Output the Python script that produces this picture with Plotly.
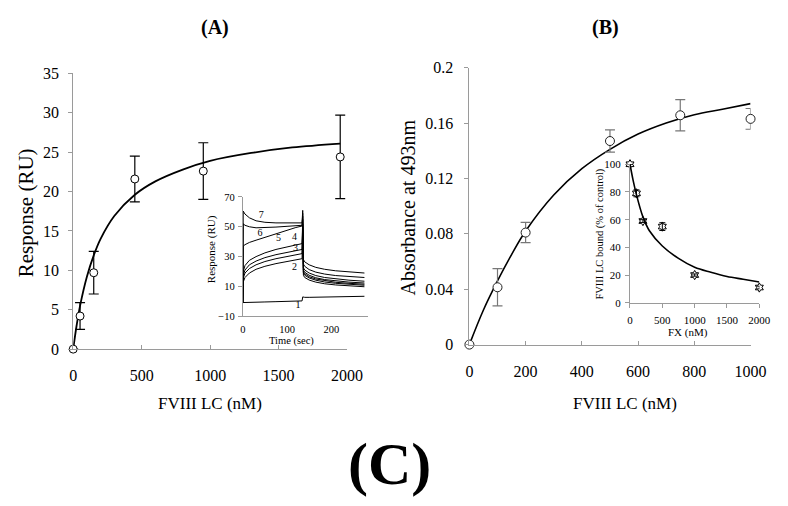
import plotly.graph_objects as go

W, H = 788, 506
FONT = "Liberation Serif"

# ---------------- Panel A main data ----------------
a_x = [0, 50, 150, 450, 950, 1950]
a_y = [0, 4.2, 9.7, 21.6, 22.6, 24.4]
a_err = [0, 1.7, 2.7, 2.9, 3.6, 5.3]
a_fit_x = [0, 25, 50, 100, 150, 200, 300, 450, 600, 800, 1000, 1300, 1600, 1950]
a_fit_y = [0, 3.0, 5.5, 9.2, 11.9, 14.0, 16.9, 19.6, 21.3, 22.8, 23.9, 24.9, 25.6, 26.1]
a_xticks = [0, 500, 1000, 1500, 2000]
a_yticks = [0, 5, 10, 15, 20, 25, 30, 35]

# ---------------- Panel A inset (sensorgram) ----------------
t_assoc = [0, 1, 5, 15, 30, 50, 75, 100, 120, 134]
t_spike = [135.5]
t_diss = [137, 140, 150, 165, 185, 210, 240, 275]
c7 = [-0.8, 60.5, 58.5, 56, 54, 53, 52.6, 52.4, 52.4, 52.6] + [61] + [28, 26.5, 24.5, 22.8, 21.5, 20.5, 19.7, 19.0]
c6 = [-0.8, 52, 51, 50, 49.3, 49.3, 49.8, 50.3, 50.7, 51] + [59] + [25, 23.5, 21.3, 19.6, 18.3, 17.3, 16.5, 16.0]
c5 = [-0.8, 37, 38, 39.5, 41, 43, 45.5, 48, 49.5, 50.5] + [57] + [22.5, 21, 19, 17.3, 16, 15, 14.2, 13.5]
c4 = [-0.8, 20, 24, 27.5, 30, 32.5, 34.8, 36.7, 37.8, 38.7] + [55] + [21, 19.5, 17.5, 15.8, 14.6, 13.6, 12.9, 12.3]
c3a = [-0.8, 17.5, 21, 24.5, 27, 29.3, 31.3, 33, 34, 34.8] + [52] + [20, 18.5, 16.5, 15, 13.8, 12.8, 12.1, 11.5]
c3b = [-0.8, 15.5, 19, 22, 24.5, 26.7, 28.6, 30.2, 31.2, 32] + [50] + [19, 17.5, 15.7, 14.2, 13, 12.1, 11.4, 10.8]
c2 = [-0.8, 13, 16, 19, 21.5, 23.5, 25.3, 26.8, 27.8, 28.6] + [48] + [17.5, 16, 14.3, 12.9, 11.8, 11, 10.4, 9.8]
c1 = [-0.8, -0.8, -0.8, -0.7, -0.6, -0.4, -0.2, 0, 0.2, 0.3] + [3] + [2.8, 2.7, 2.7, 2.8, 2.9, 3.0, 3.2, 3.4]
sens_curves = [c7, c6, c5, c4, c3a, c3b, c2, c1]
sens_lab = ["7", "6", "5", "4", "3", "2", "1"]
sens_lab_x = [42, 39, 81, 117, 119, 117, 125]
sens_lab_y = [57.6, 45.6, 42.3, 42.5, 35.3, 22.7, -3]
ia_xticks = [0, 100, 200]
ia_yticks = [-10, 10, 30, 50, 70]

# ---------------- Panel B main data ----------------
b_x = [0, 100, 200, 500, 750, 1000]
b_y = [0, 0.0414, 0.0809, 0.147, 0.1656, 0.163]
b_err = [0, 0.0135, 0.0073, 0.008, 0.0113, 0.0075]
b_fit_x = [0, 50, 100, 150, 200, 300, 400, 500, 600, 700, 800, 900, 1000]
b_fit_y = [0, 0.025, 0.046, 0.065, 0.082, 0.108, 0.127, 0.141, 0.152, 0.160, 0.166, 0.170, 0.174]
b_xticks = [0, 200, 400, 600, 800, 1000]
b_yticks = [0, 0.04, 0.08, 0.12, 0.16, 0.2]
b_yticktext = ["0", "0.04", "0.08", "0.12", "0.16", "0.2"]

# ---------------- Panel B inset ----------------
ib_x = [0, 100, 200, 500, 1000, 2000]
ib_y = [100, 79, 59, 55, 20, 11]
ib_err = [0, 2.5, 1, 2.8, 0.8, 1]
ib_fit_x = [0, 50, 100, 200, 300, 500, 750, 1000, 1250, 1500, 1750, 2000]
ib_fit_y = [100, 88, 78, 62, 52, 41, 32, 25.6, 22, 19, 17, 15]
ib_xticks = [0, 500, 1000, 1500, 2000]
ib_yticks = [0, 20, 40, 60, 80, 100]


def X(px):
    return px / W


def Y(py):
    return 1 - py / H


fig = go.Figure()
# A main
fig.add_trace(go.Scatter(x=a_fit_x, y=a_fit_y, mode="lines", line=dict(color="black", width=1.8, shape="spline"),
                         xaxis="x", yaxis="y", showlegend=False, cliponaxis=False))
fig.add_trace(go.Scatter(x=a_x, y=a_y, mode="markers",
                         marker=dict(symbol="circle", size=8, color="white", line=dict(color="black", width=1)),
                         error_y=dict(type="data", array=a_err, color="black", thickness=1.2, width=5),
                         xaxis="x", yaxis="y", showlegend=False, cliponaxis=False))
# A inset
for c in sens_curves:
    fig.add_trace(go.Scatter(x=t_assoc + t_spike + t_diss, y=c, mode="lines",
                             line=dict(color="black", width=1), xaxis="x2", yaxis="y2", showlegend=False))
fig.add_trace(go.Scatter(x=sens_lab_x, y=sens_lab_y, mode="text", text=sens_lab,
                         textfont=dict(family=FONT, size=10, color="black"),
                         xaxis="x2", yaxis="y2", showlegend=False))
# B main
fig.add_trace(go.Scatter(x=b_fit_x, y=b_fit_y, mode="lines", line=dict(color="black", width=1.6, shape="spline"),
                         xaxis="x3", yaxis="y3", showlegend=False, cliponaxis=False))
fig.add_trace(go.Scatter(x=b_x, y=b_y, mode="markers",
                         marker=dict(symbol="circle", size=9, color="white", line=dict(color="#222", width=1)),
                         error_y=dict(type="data", array=b_err, color="#777", thickness=1.2, width=5),
                         xaxis="x3", yaxis="y3", showlegend=False, cliponaxis=False))
# B inset
fig.add_trace(go.Scatter(x=ib_fit_x, y=ib_fit_y, mode="lines", line=dict(color="black", width=1.6, shape="spline"),
                         xaxis="x4", yaxis="y4", showlegend=False, cliponaxis=False))
fig.add_trace(go.Scatter(x=ib_x, y=ib_y, mode="markers",
                         marker=dict(symbol="hexagram-open", size=7, color="black", line=dict(color="black", width=1)),
                         error_y=dict(type="data", array=ib_err, color="black", thickness=1, width=3),
                         xaxis="x4", yaxis="y4", showlegend=False, cliponaxis=False))

axcol = "#9a9a9a"


def ax(domain, rng, tickvals, size, anchor, ticks="outside", ticktext=None, standoff=4):
    d = dict(domain=domain, range=rng, tickvals=tickvals, showgrid=False, zeroline=False,
             showline=True, linecolor=axcol, linewidth=1, ticks=ticks, ticklen=4, tickcolor=axcol,
             tickfont=dict(family=FONT, size=size, color="black"), anchor=anchor,
             ticklabelstandoff=standoff)
    if ticktext is not None:
        d["ticktext"] = ticktext
    return d


fig.update_layout(
    width=W, height=H, margin=dict(l=0, r=0, t=0, b=0),
    paper_bgcolor="white", plot_bgcolor="rgba(0,0,0,0)",
    xaxis=ax([X(71), X(352)], [0, 2000], a_xticks, 16, "y", ticks="inside", standoff=12),
    yaxis=ax([Y(353), Y(67.7)], [0, 35], a_yticks, 16, "x", standoff=6),
    xaxis2=ax([X(245), X(373)], [0, 282], ia_xticks, 10.5, "y2", ticks="", standoff=3),
    yaxis2=ax([Y(319), Y(195.5)], [-10, 70], ia_yticks, 10.5, "x2", standoff=1),
    xaxis3=ax([X(477.5), X(766)], [0, 1000], b_xticks, 16, "y3", ticks="inside", standoff=12),
    yaxis3=ax([Y(348.3), Y(61.7)], [0, 0.2], b_yticks, 16, "x3", ticktext=b_yticktext, standoff=8),
    xaxis4=ax([X(642.3), X(775)], [0, 2000], ib_xticks, 11, "y4", standoff=3),
    yaxis4=ax([Y(305), Y(161.7)], [0, 100], ib_yticks, 11, "x4", standoff=2),
)


def ann(text, px, py, size, bold=False, angle=0):
    return dict(text=f"<b>{text}</b>" if bold else text, x=X(px), y=Y(py), xref="paper", yref="paper",
                xanchor="center", yanchor="middle", showarrow=False, textangle=angle,
                font=dict(family=FONT, size=size, color="black"))


fig.update_layout(annotations=[
    ann("(A)", 216, 20, 20, bold=True),
    ann("(B)", 617, 20, 20, bold=True),
    ann("(C)", 396, 472, 60, bold=True),
    ann("Response (RU)", 22, 212, 21, angle=-90),
    ann("FVIII LC (nM)", 211, 409, 17),
    ann("Absorbance at 493nm", 415, 206, 20, angle=-90),
    ann("FVIII LC (nM)", 637, 409, 17),
    ann("Response (RU)", 213, 250, 11, angle=-90),
    ann("Time (sec)", 295, 345, 10.5),
    ann("FVIII LC bound (% of control)", 612, 234, 10.5, angle=-90),
    ann("FX (nM)", 702, 336, 11),
])

fig.write_html("out.html")
